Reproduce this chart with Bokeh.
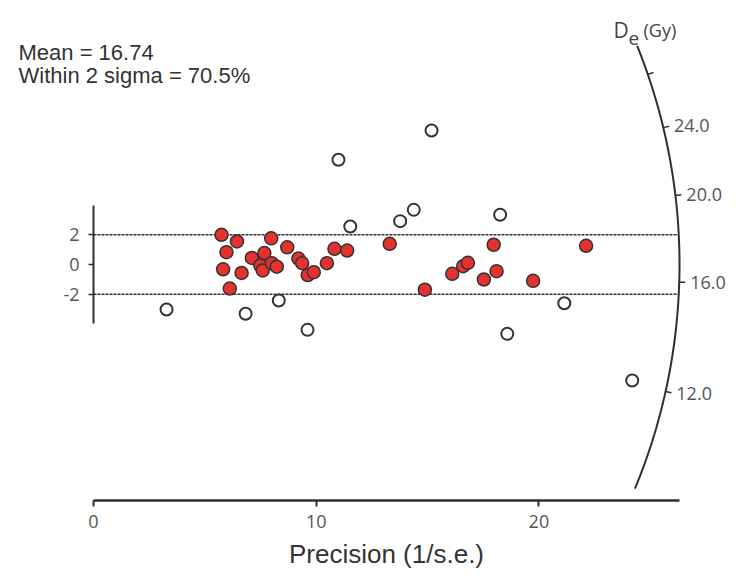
import numpy as np
from bokeh.plotting import figure
from bokeh.models import Range1d, LinearAxis, FixedTicker
from bokeh.core.properties import value
from bokeh.embed import file_html
from bokeh.resources import INLINE

# ---- data (precision, standardised estimate) ----
mean_de = 16.74
within_pct = 70.5

in_x = [5.75, 6.44, 5.97, 5.82, 6.12, 6.65, 7.11, 7.67, 7.49, 7.60, 7.98, 8.01,
        8.23, 8.70, 9.20, 9.37, 9.62, 9.89, 10.48, 10.82, 11.39, 13.30, 14.88,
        16.11, 16.60, 16.81, 17.53, 17.97, 18.10, 19.74, 22.12]
in_y = [2.00, 1.55, 0.83, -0.32, -1.62, -0.57, 0.44, 0.77, -0.07, -0.40, 1.76, 0.09,
        -0.15, 1.16, 0.40, 0.09, -0.71, -0.52, 0.09, 1.06, 0.94, 1.39, -1.70,
        -0.63, -0.11, 0.11, -1.01, 1.33, -0.45, -1.10, 1.26]

out_x = [3.28, 6.83, 8.32, 9.61, 11.00, 11.53, 13.77, 14.38, 15.18, 18.26, 21.14, 18.58, 24.19]
out_y = [-3.03, -3.32, -2.42, -4.40, 7.05, 2.56, 2.92, 3.68, 9.02, 3.35, -2.61, -4.67, -7.81]

radial_ticks = [12, 16, 20, 24, 28]
radial_labels = ["12.0", "16.0", "20.0", "24.0", ""]
arc_de_range = (9.0, 30.6)
x_ticks = [0, 10, 20]
y_ticks = [-2, 0, 2]
sigma_band = 2

# ---- layout constants ----
W, H = 740, 571
SX, SY = 22.27, 14.85      # px per data unit
OX, OY = 93, 264           # origin position in frame px (from left / from top)
R = 586                    # radius of radial scale in px
x0 = -OX / SX
x1 = x0 + W / SX
y1 = OY / SY
y0 = y1 - H / SY


def fx(px):
    return x0 + px / SX


def fy(py):
    return y1 - py / SY


def theta(de):
    return np.arctan2(np.log(np.asarray(de, float) / mean_de) * SY, SX)


def polar(r, th):
    return r * np.cos(th) / SX, r * np.sin(th) / SY


p = figure(width=W, height=H, x_range=Range1d(x0, x1), y_range=Range1d(y0, y1),
           output_backend="svg", toolbar_location=None, min_border=0,
           x_axis_type=None, y_axis_type=None)
p.outline_line_color = None
p.background_fill_color = "white"

AX = "#2f2f2f"

# bottom axis
xa = LinearAxis(fixed_location=fy(500), bounds=(0, R / SX),
                ticker=FixedTicker(ticks=x_ticks), axis_label="Precision (1/s.e.)")
xa.axis_line_color = AX
xa.axis_line_width = 2.5
xa.major_tick_line_color = AX
xa.major_tick_line_width = 2
xa.major_tick_out = 6
xa.major_tick_in = 0
xa.minor_tick_out = 0
xa.minor_tick_in = 0
xa.major_label_text_font = "Open Sans"
xa.major_label_text_font_size = "18px"
xa.major_label_text_color = "#555555"
xa.major_label_standoff = 8
xa.axis_label_text_font = "Liberation Sans"
xa.axis_label_text_font_size = "26px"
xa.axis_label_text_font_style = "normal"
xa.axis_label_text_color = "#333333"
xa.axis_label_standoff = 8
p.add_layout(xa, "below")

# left axis
ya = LinearAxis(fixed_location=0, bounds=(-4, 4), ticker=FixedTicker(ticks=y_ticks),
                major_label_overrides={-2: "-2"})
ya.axis_line_color = AX
ya.axis_line_width = 2
ya.major_tick_line_color = AX
ya.major_tick_line_width = 1.5
ya.major_tick_out = 5
ya.major_tick_in = 0
ya.minor_tick_out = 0
ya.minor_tick_in = 0
ya.major_label_text_font = "Open Sans"
ya.major_label_text_font_size = "18px"
ya.major_label_text_color = "#555555"
ya.major_label_standoff = 9
p.add_layout(ya, "left")

# radial arc
ths = np.linspace(theta(arc_de_range[0]), theta(arc_de_range[1]), 300)
ax_, ay_ = polar(R, ths)
p.line(ax_, ay_, line_color=AX, line_width=2)

# radial ticks and labels
tth = theta(radial_ticks)
t0x, t0y = polar(R, tth)
t1x, t1y = polar(R + 6, tth)
p.segment(t0x, t0y, t1x, t1y, line_color=AX, line_width=1.5)
lx, ly = polar(R + 11, tth)
p.text(lx, ly, text=radial_labels, text_font=value("Open Sans"), text_font_size="18px",
       text_color="#555555", text_baseline="middle", text_align="left")

# 2-sigma band lines
rx, ry = R / SX, R / SY
xe = rx * np.sqrt(1 - (sigma_band / ry) ** 2)
p.segment([0, 0], [sigma_band, -sigma_band], [xe, xe], [sigma_band, -sigma_band],
          line_color="#333333", line_width=1.5, line_dash="3 1")

# points
p.scatter(out_x, out_y, size=12, fill_color="white", line_color="#333333", line_width=2)
p.scatter(in_x, in_y, size=13, fill_color="#e5322f", line_color="#333333", line_width=1.5)

# summary text
p.text([fx(18), fx(18)], [fy(52), fy(75)],
       text=[f"Mean = {mean_de:.2f}", f"Within {sigma_band} sigma = {within_pct}%"],
       text_font=value("Liberation Sans"), text_font_size="22px", text_color="#333333",
       text_baseline="alphabetic", text_align="left")

# radial axis title D_e (Gy)
p.text([fx(613)], [fy(29)], text=["D"], text_font=value("Open Sans"), text_font_size="21px",
       text_color="#444444", text_baseline="alphabetic")
p.text([fx(628)], [fy(38)], text=["e"], text_font=value("Open Sans"), text_font_size="19px",
       text_color="#444444", text_baseline="alphabetic")
p.text([fx(643)], [fy(29)], text=["(Gy)"], text_font=value("Open Sans"), text_font_size="18px",
       text_color="#444444", text_baseline="alphabetic")

open("out.html", "w").write(file_html(p, INLINE))
